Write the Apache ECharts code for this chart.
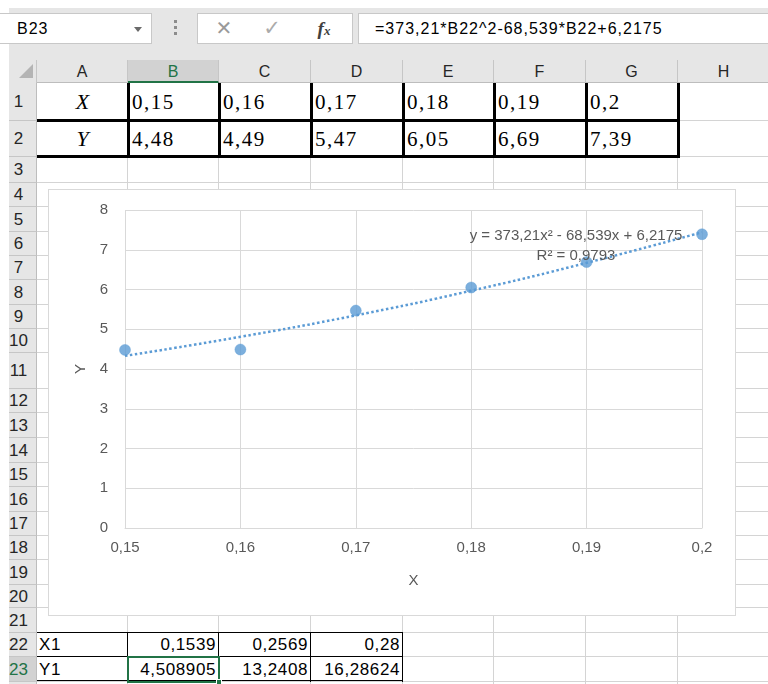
<!DOCTYPE html>
<html>
<head>
<meta charset="utf-8">
<script src="https://cdn.jsdelivr.net/npm/echarts@6/dist/echarts.min.js"></script>
<style>
  html,body{margin:0;padding:0;background:#fff;}
  body{width:768px;height:684px;overflow:hidden;position:relative;font-family:"Liberation Sans",Arial,sans-serif;}
  .b{position:absolute;box-sizing:border-box;white-space:nowrap;}
  #chart{position:absolute;left:48px;top:189px;width:686px;height:425px;border:1px solid #d9d9d9;background:#fff;z-index:50;}
</style>
</head>
<body>
<div id="chart"></div>
<script>
// ---------- data ----------
const xValues = [0.15, 0.16, 0.17, 0.18, 0.19, 0.2];
const yValues = [4.48, 4.49, 5.47, 6.05, 6.69, 7.39];
// trendline values at each x
const trendX = [0.15, 0.16, 0.17, 0.18, 0.19, 0.2];
const trendY = [4.33, 4.81, 5.35, 5.97, 6.67, 7.44];
const trendLabel = ['y = 373,21x² - 68,539x + 6,2175', 'R² = 0,9793'];
const x1Values = ['0,1539', '0,2569', '0,28'];
const y1Values = ['4,508905', '13,2408', '16,28624'];
const formulaText = '=373,21*B22^2-68,539*B22+6,2175';
const nameBoxText = 'B23';
const colNames = ['A','B','C','D','E','F','G','H'];
const xAxisRange = [0.15, 0.2, 0.01];
const yAxisRange = [0, 8, 1];

// ---------- spreadsheet frame ----------
const colEdges = [37,128,219,311,403,494,586,678,770];
const rowEdges = [83,121,157,183,207,232,256,280,305,329,353,389,413,438,463,487,512,536,560,585,608,633,657,682,706];
function box(l,t,w,h,css,text,html){
  const d=document.createElement('div');
  d.className='b';
  d.style.cssText=`left:${l}px;top:${t}px;width:${w}px;height:${h}px;`+(css||'');
  if(html) d.innerHTML=html; else if(text!==undefined && text!==null) d.textContent=text;
  document.body.appendChild(d);
  return d;
}
const fmt = v => String(v).replace('.', ',');

// top band
box(9,8,761,75,'background:#e6e6e6;');
// name box
box(0,13,152,31,'background:#fff;border:1px solid #c8c8c8;border-left:none;font-size:16px;letter-spacing:1px;line-height:29px;padding-left:17px;color:#000;',nameBoxText);
box(134,27,0,0,'border-left:4px solid transparent;border-right:4px solid transparent;border-top:5px solid #6a6a6a;');
[20,26,32].forEach(y=>box(174,y,3,3,'background:#8c8c8c;'));
// function box
box(197,13,156,31,'background:#fff;border:1px solid #c8c8c8;');
box(213,13,22,31,'font-family:"DejaVu Sans";font-size:20px;line-height:31px;color:#9a9a9a;text-align:center;','✕');
box(261,13,22,31,'font-family:"DejaVu Sans";font-size:21px;line-height:31px;color:#ababab;text-align:center;','✓');
box(311,13,26,31,'font-family:"Liberation Serif";font-style:italic;font-weight:bold;font-size:19px;line-height:31px;color:#404040;text-align:center;',null,'f<span style="font-size:13px">x</span>');
// formula box
box(358,13,412,31,'background:#fff;border:1px solid #c8c8c8;border-right:none;font-size:16px;letter-spacing:1px;line-height:29px;padding-left:16px;color:#000;',formulaText);

// column headers
box(9,60,28,23,'background:#e6e6e6;border-right:1px solid #c6c6c6;');
box(19,64,14,14,'background:#b4b4b4;clip-path:polygon(100% 0,100% 100%,0 100%);');
for(let i=0;i<colNames.length;i++){
  const l=colEdges[i], w=colEdges[i+1]-l;
  const sel = colNames[i]==='B';
  box(l,60,w,23,'background:'+(sel?'#d2d2d2':'#e6e6e6')+';border-right:1px solid #c6c6c6;'+(sel?'border-bottom:2px solid #217346;':'border-bottom:1px solid #bdbdbd;')+'font-size:16px;line-height:23px;text-align:center;color:'+(sel?'#217346':'#262626')+';',colNames[i]);
}
// row headers + cells grid
box(37,83,733,601,'background:#fff;');
for(let r=0;r<rowEdges.length-1;r++){
  const t=rowEdges[r], h=rowEdges[r+1]-t;
  const sel = (r+1)===23;
  box(9,t,28,h,'background:'+(sel?'#d2d2d2':'#e6e6e6')+';border-bottom:1px solid #c6c6c6;border-right:1px solid #bdbdbd;font-size:17px;line-height:'+h+'px;color:'+(sel?'#217346':'#262626')+';',null,'<span style="display:inline-block;width:19px;text-align:center;">'+(r+1)+'</span>');
  box(37,rowEdges[r+1]-1,733,1,'background:#d4d4d4;');
}
for(let i=1;i<colEdges.length-1;i++) box(colEdges[i]-1,83,1,601,'background:#d4d4d4;');

// rows 1-2 (thick-bordered table)
const serif='font-family:"Liberation Serif","Times New Roman",serif;color:#000;';
box(37,83,91,38,serif+'font-style:italic;font-size:22px;line-height:38px;text-align:center;','X');
box(37,121,91,36,serif+'font-style:italic;font-size:22px;line-height:36px;text-align:center;','Y');
for(let i=0;i<xValues.length;i++){
  const l=colEdges[i+1];
  box(l+4,83,88,38,serif+'font-size:21px;letter-spacing:1.5px;line-height:38px;',fmt(xValues[i]));
  box(l+4,121,88,36,serif+'font-size:21px;letter-spacing:1.5px;line-height:36px;',fmt(yValues[i]));
}
box(37,119,642,3,'background:#000;');
box(37,155,642,3,'background:#000;');
for(let i=1;i<=7;i++) box(colEdges[i]-1,83,3,75,'background:#000;');

// rows 22-23
const sans='font-size:17px;letter-spacing:0.6px;color:#000;';
box(39,633,88,24,sans+'line-height:24px;','X1');
box(39,657,88,25,sans+'line-height:25px;','Y1');
for(let i=0;i<3;i++){
  const l=colEdges[i+1], w=colEdges[i+2]-l;
  box(l,633,w-3,24,sans+'line-height:24px;text-align:right;',x1Values[i]);
  box(l,657,w-3,25,sans+'line-height:25px;text-align:right;',y1Values[i]);
}
[633,657,681].forEach(y=>box(37,y-1,366,1,'background:#000;'));
[128,219,311,403].forEach(x=>box(x-1,632,1,50,'background:#000;'));
// selection on B23
box(127,656,93,27,'border:2px solid #217346;');
box(216,679,6,6,'background:#217346;border:1px solid #fff;');

// ---------- chart ----------
const chart = echarts.init(document.getElementById('chart'), null, {renderer:'canvas'});
const axisFmt = v => String(Math.round(v*100)/100).replace('.', ',');
const txt = '#595959';
chart.setOption({
  animation:false,
  backgroundColor:'#fff',
  textStyle:{fontFamily:'Liberation Sans'},
  grid:{left:76, top:20, right:33, bottom:87, containLabel:false},
  xAxis:{
    type:'value', min:xAxisRange[0], max:xAxisRange[1], interval:xAxisRange[2],
    name:'X', nameLocation:'middle', nameGap:45,
    nameTextStyle:{color:txt, fontSize:15},
    axisLine:{show:true, onZero:false, lineStyle:{color:'#d9d9d9', width:1}},
    axisTick:{show:false},
    axisLabel:{color:txt, fontSize:15, margin:12, formatter:axisFmt},
    splitLine:{show:true, lineStyle:{color:'#d9d9d9', width:1}}
  },
  yAxis:{
    type:'value', min:yAxisRange[0], max:yAxisRange[1], interval:yAxisRange[2],
    name:'Y', nameLocation:'middle', nameGap:31, nameRotate:90,
    nameTextStyle:{color:txt, fontSize:15},
    axisLine:{show:false}, axisTick:{show:false},
    axisLabel:{color:txt, fontSize:15, margin:17, formatter:v=>String(v)},
    splitLine:{show:true, lineStyle:{color:'#d9d9d9', width:1}}
  },
  series:[
    {
      type:'line', data:trendX.map((x,i)=>[x,trendY[i]]), smooth:true,
      symbol:'none', silent:true, z:2,
      lineStyle:{color:'#5B9BD5', width:2.5, type:'dotted'}
    },
    {
      type:'scatter', data:xValues.map((x,i)=>[x,yValues[i]]),
      symbol:'circle', symbolSize:11, z:3,
      itemStyle:{color:'#5B9BD5', borderColor:'#5B9BD5', borderWidth:0.5}
    }
  ],
  graphic:[
    {type:'text', x:527, y:46, z:10, style:{text:trendLabel[0], align:'center', verticalAlign:'middle', fill:txt, font:'15px "Liberation Sans"'}},
    {type:'text', x:527, y:66, z:10, style:{text:trendLabel[1], align:'center', verticalAlign:'middle', fill:txt, font:'15px "Liberation Sans"'}}
  ]
});
</script>
</body>
</html>
